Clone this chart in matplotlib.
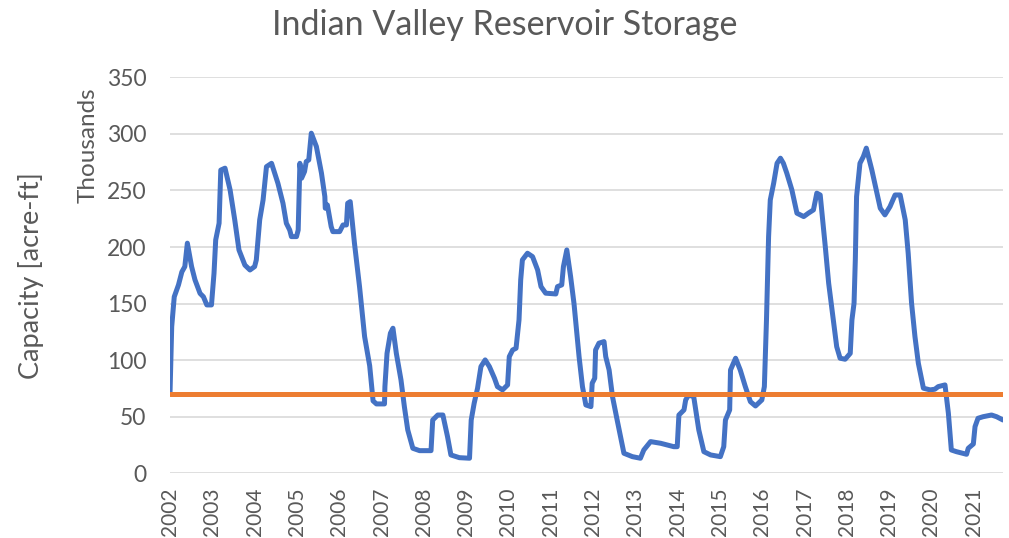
"""Indian Valley Reservoir storage, 2002-2021, against the 70k acre-ft line."""

import matplotlib

matplotlib.use("Agg")
import matplotlib.pyplot as plt

# decimal year, storage in thousands of acre-ft
years = [
    2002.00, 2002.04, 2002.10, 2002.20, 2002.28, 2002.35, 2002.41, 2002.51, 2002.59, 2002.71,
    2002.79, 2002.87, 2002.98, 2003.04, 2003.08, 2003.16, 2003.20, 2003.30, 2003.42, 2003.53,
    2003.63, 2003.77, 2003.89, 2004.00, 2004.04, 2004.12, 2004.20, 2004.28, 2004.40, 2004.55,
    2004.67, 2004.75, 2004.83, 2004.87, 2004.99, 2005.03, 2005.07, 2005.11, 2005.18, 2005.22,
    2005.28, 2005.34, 2005.46, 2005.58, 2005.66, 2005.67, 2005.72, 2005.81, 2005.85, 2006.01,
    2006.09, 2006.17, 2006.20, 2006.26, 2006.36, 2006.48, 2006.60, 2006.72, 2006.80, 2006.88,
    2007.07, 2007.08, 2007.13, 2007.21, 2007.27, 2007.35, 2007.46, 2007.54, 2007.62, 2007.74,
    2007.90, 2008.17, 2008.21, 2008.33, 2008.45, 2008.56, 2008.64, 2008.84, 2009.08, 2009.12,
    2009.19, 2009.27, 2009.35, 2009.45, 2009.55, 2009.67, 2009.74, 2009.86, 2009.98, 2010.02,
    2010.10, 2010.18, 2010.25, 2010.29, 2010.33, 2010.45, 2010.57, 2010.69, 2010.77, 2010.88,
    2011.12, 2011.16, 2011.26, 2011.30, 2011.38, 2011.47, 2011.55, 2011.67, 2011.75, 2011.83,
    2011.95, 2011.98, 2012.04, 2012.06, 2012.14, 2012.26, 2012.30, 2012.38, 2012.46, 2012.57,
    2012.73, 2012.93, 2013.12, 2013.20, 2013.36, 2013.60, 2013.91, 2013.99, 2014.03, 2014.15,
    2014.19, 2014.26, 2014.38, 2014.50, 2014.62, 2014.78, 2015.01, 2015.09, 2015.13, 2015.23,
    2015.25, 2015.37, 2015.48, 2015.60, 2015.72, 2015.84, 2015.99, 2016.05, 2016.10, 2016.15,
    2016.19, 2016.27, 2016.35, 2016.43, 2016.50, 2016.58, 2016.70, 2016.82, 2016.98, 2017.09,
    2017.21, 2017.29, 2017.37, 2017.49, 2017.57, 2017.68, 2017.76, 2017.84, 2017.96, 2018.08,
    2018.12, 2018.17, 2018.20, 2018.23, 2018.31, 2018.39, 2018.46, 2018.59, 2018.71, 2018.79,
    2018.90, 2019.02, 2019.14, 2019.26, 2019.38, 2019.45, 2019.53, 2019.61, 2019.69, 2019.81,
    2019.97, 2020.08, 2020.16, 2020.32, 2020.40, 2020.47, 2020.59, 2020.83, 2020.87, 2020.99,
    2021.03, 2021.10, 2021.22, 2021.42, 2021.54, 2021.69,
]
storage = [
    70.7, 129.6, 156.0, 166.5, 178.0, 182.7, 203.4, 182.7, 171.0, 159.0,
    156.0, 148.8, 148.8, 176.8, 206.3, 221.0, 268.0, 269.7, 250.5, 224.0,
    197.4, 184.0, 179.7, 182.7, 188.6, 224.0, 241.6, 271.0, 274.0, 256.4,
    238.7, 221.0, 215.0, 209.2, 209.2, 215.0, 274.0, 260.8, 266.7, 275.5,
    277.0, 300.6, 288.8, 265.3, 244.6, 234.3, 237.2, 218.0, 213.6, 213.6,
    219.5, 219.5, 238.7, 240.1, 203.4, 165.0, 120.8, 95.0, 64.0, 61.3,
    61.3, 76.6, 106.0, 123.8, 128.2, 106.0, 82.5, 58.9, 38.3, 22.1,
    20.0, 20.0, 47.1, 51.5, 51.5, 32.4, 16.2, 13.8, 13.3, 47.1,
    61.9, 75.2, 94.3, 100.2, 94.3, 84.0, 76.6, 73.7, 78.1, 103.1,
    109.0, 110.5, 135.5, 171.0, 188.6, 194.5, 191.5, 179.7, 165.0, 159.2,
    158.5, 165.0, 166.5, 182.7, 197.4, 173.8, 150.0, 103.0, 76.6, 60.4,
    58.9, 79.6, 84.0, 109.0, 115.0, 116.4, 103.1, 91.3, 67.7, 47.1,
    17.7, 14.7, 13.3, 20.6, 28.0, 26.5, 23.5, 23.5, 51.5, 56.0,
    64.8, 69.2, 67.7, 38.3, 19.1, 16.2, 14.7, 23.5, 47.1, 56.0,
    91.3, 101.7, 91.3, 76.6, 63.3, 59.5, 64.8, 76.6, 135.5, 209.2,
    241.6, 256.4, 274.0, 278.5, 274.0, 265.3, 250.5, 229.9, 226.9, 229.9,
    232.8, 247.6, 246.0, 200.4, 168.0, 135.5, 111.9, 101.7, 100.8, 106.0,
    135.5, 150.3, 188.6, 244.6, 274.0, 279.9, 287.4, 268.2, 247.6, 234.3,
    228.4, 235.7, 246.0, 246.0, 224.0, 194.5, 150.3, 120.8, 97.3, 75.2,
    73.7, 74.3, 76.6, 78.1, 53.1, 20.6, 19.1, 16.8, 22.1, 25.9,
    41.2, 48.6, 50.0, 51.5, 50.0, 47.1,
]
threshold = 70  # thousands of acre-ft, flat line

year_ticks = list(range(2002, 2022))
y_ticks = [0, 50, 100, 150, 200, 250, 300, 350]

TEXT_GREY = "#595959"
BLUE = "#4472C4"
ORANGE = "#ED7D31"

plt.rcParams["font.family"] = ["Lato", "DejaVu Sans"]

fig = plt.figure(figsize=(10.09, 5.38), dpi=100)
ax = fig.add_axes([0.1685, 0.1203, 0.994 - 0.1685, 0.8563 - 0.1203])

ax.plot(years, storage, color=BLUE, linewidth=3.6, solid_joinstyle="round",
        solid_capstyle="round", zorder=3)
ax.plot([years[0], years[-1]], [threshold, threshold], color=ORANGE,
        linewidth=3.6, solid_capstyle="round", zorder=4)

ax.set_xlim(2002, years[-1])
ax.set_ylim(0, 350)
ax.set_yticks(y_ticks)
ax.set_xticks(year_ticks)
ax.set_xticklabels([str(y) for y in year_ticks], rotation=90)
ax.grid(axis="y", color="#D9D9D9", linewidth=1.2)
ax.set_axisbelow(True)
for spine in ax.spines.values():
    spine.set_visible(False)
ax.tick_params(axis="both", length=0, colors=TEXT_GREY)
ax.tick_params(axis="y", pad=17, labelsize=16.5)
ax.tick_params(axis="x", pad=10, labelsize=15)

fig.text(0.5, 1 - 25 / 538, "Indian Valley Reservoir Storage", ha="center", va="center",
         fontsize=24.5, color=TEXT_GREY)
fig.text(88 / 1009, 1 - 145 / 538, "Thousands", rotation=90, ha="center", va="center",
         fontsize=17.5, color=TEXT_GREY)
fig.text(31 / 1009, 1 - 276 / 538, "Capacity [acre-ft]", rotation=90, ha="center",
         va="center", fontsize=19.5, color=TEXT_GREY)

fig.savefig("out.png", dpi=100)
